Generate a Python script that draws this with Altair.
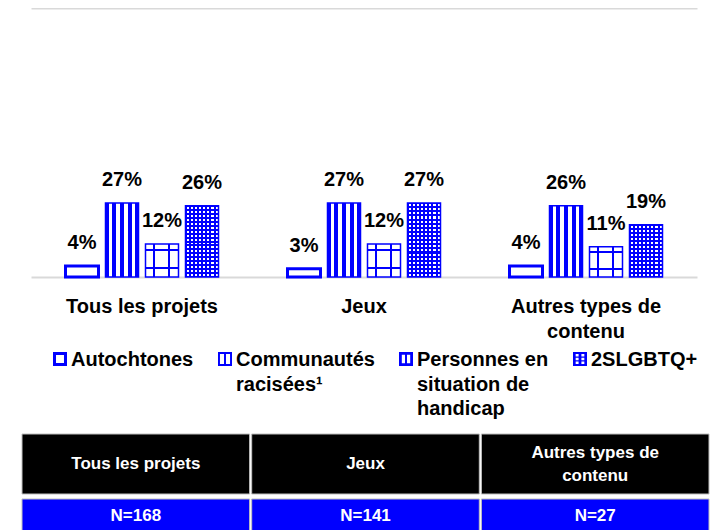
import json
import altair as alt
import pandas as pd

# ---------------- data ----------------
categories = ["Tous les projets", "Jeux", "Autres types de contenu"]
series = ["Autochtones", "Communautés racisées¹", "Personnes en situation de handicap", "2SLGBTQ+"]
autochtones = [4, 3, 4]
communautes = [27, 27, 26]
personnes = [12, 12, 11]
lgbt = [26, 27, 19]
n_counts = [168, 141, 27]

category_lines = {
    "Tous les projets": ["Tous les projets"],
    "Jeux": ["Jeux"],
    "Autres types de contenu": ["Autres types de", "contenu"],
}
series_lines = {
    "Autochtones": ["Autochtones"],
    "Communautés racisées¹": ["Communautés", "racisées¹"],
    "Personnes en situation de handicap": ["Personnes en", "situation de", "handicap"],
    "2SLGBTQ+": ["2SLGBTQ+"],
}

rows = []
for s, vals in zip(series, [autochtones, communautes, personnes, lgbt]):
    for c, v in zip(categories, vals):
        rows.append({"category": c, "series": s, "value": v})
df = pd.DataFrame(rows)
tab_df = pd.DataFrame({
    "category": categories,
    "n": [f"N={n}" for n in n_counts],
    "nlines": [len(category_lines[c]) for c in categories],
})

# ---------------- styles ----------------
BLUE = "#0000ff"
TRANSP = "rgba(0,0,255,0)"
FONT = "Liberation Sans"
GRAY = "#d9d9d9"


def wrap_expr(mapping, ref, pad_to=0):
    expr = ref
    for k, lines in mapping.items():
        lines = list(lines) + [""] * max(0, pad_to - len(lines))
        if len(lines) > 1:
            expr = f"{ref} == {json.dumps(k, ensure_ascii=False)} ? {json.dumps(lines, ensure_ascii=False)} : ({expr})"
    return expr


def grad(bg, color, bands, vertical=False):
    stops = [alt.GradientStop(offset=0, color=bg)]
    for a, b in bands:
        stops += [
            alt.GradientStop(offset=a, color=bg),
            alt.GradientStop(offset=a, color=color),
            alt.GradientStop(offset=b, color=color),
            alt.GradientStop(offset=b, color=bg),
        ]
    stops.append(alt.GradientStop(offset=1, color=bg))
    if vertical:
        return alt.LinearGradient(gradient="linear", stops=stops, x1=0, y1=0, x2=0, y2=1)
    return alt.LinearGradient(gradient="linear", stops=stops, x1=0, y1=0, x2=1, y2=0)


def periodic(n, a=0.3, b=0.8):
    return [((i + a) / n, (i + b) / n) for i in range(n)]


comm_bands = [(0.093, 0.207), (0.33, 0.433), (0.567, 0.67), (0.795, 0.898)]
pers_v = [(0.235, 0.29), (0.69, 0.745)]
pers_h = [(0.155, 0.21), (0.71, 0.765)]


def sym_path(holes):
    p = "M-1,-2H1V0H-1Z"
    for x0, x1, y0, y1 in holes:
        p += f" M{x0:g},{y0 - 1:g}V{y1 - 1:g}H{x1:g}V{y0 - 1:g}Z"
    return p


paths = [
    sym_path([(-0.57, 0.57, -0.57, 0.57)]),
    sym_path([(-0.72, -0.14, -0.72, 0.72), (0.14, 0.72, -0.72, 0.72)]),
    sym_path([(-0.6, -0.14, -0.6, 0.6), (0.14, 0.6, -0.6, 0.6)]),
    sym_path([(x0, x1, y0, y1) for (x0, x1) in [(-0.62, -0.2), (0.2, 0.62)]
              for (y0, y1) in [(-0.72, -0.36), (-0.18, 0.18), (0.36, 0.72)]]),
]

# ---------------- bar chart ----------------
W_BARS = 687
x_scale = alt.Scale(domain=categories, paddingInner=0, paddingOuter=0, range=[9, 675])
x_bottom = alt.X(
    "category:N", sort=categories, scale=x_scale,
    axis=alt.Axis(title=None, labelAngle=0, labelExpr=wrap_expr(category_lines, "datum.label"),
                  labelFont=FONT, labelFontSize=20, labelFontWeight="bold", labelColor="black",
                  labelPadding=19, labelLineHeight=25, labelLimit=0, labelOverlap=False,
                  ticks=False, tickSize=0, domainColor=GRAY, domainWidth=2, grid=False),
)
x_top = alt.X(
    "category:N", sort=categories, scale=x_scale,
    axis=alt.Axis(orient="top", title=None, labels=False, ticks=False, tickSize=0,
                  domain=True, domainColor=GRAY, domainWidth=2, grid=False),
)
x_none = alt.X("category:N", sort=categories, scale=x_scale, axis=None)
y_enc = alt.Y("value:Q", scale=alt.Scale(domain=[0, 98], nice=False, zero=True), axis=None)
xoff = alt.XOffset("series:N", sort=series,
                   scale=alt.Scale(domain=series, paddingInner=0.175, paddingOuter=0.8625))


def layer_for(s, x_enc):
    return alt.Chart(df).transform_filter(
        alt.FieldEqualPredicate(field="series", equal=s)
    ).encode(x=x_enc, y=y_enc, xOffset=xoff)


auto_l = layer_for(series[0], x_bottom).mark_bar(fill="white", stroke=BLUE, strokeWidth=3)
comm_l = layer_for(series[1], x_top).mark_bar(fill=grad(BLUE, "white", comm_bands), stroke=BLUE, strokeWidth=1.5)
pers_a = layer_for(series[2], x_none).mark_bar(fill=grad("white", BLUE, pers_v))
pers_b = layer_for(series[2], x_none).mark_bar(
    fill=grad(TRANSP, BLUE, pers_h, vertical=True), stroke=BLUE, strokeWidth=1.5)
lgbt_a = layer_for(series[3], x_none).mark_bar(fill=grad(BLUE, "white", periodic(8)))
lgbt_b = layer_for(series[3], x_none).mark_bar(stroke=BLUE, strokeWidth=1.5).encode(
    fill=alt.condition(
        "datum.value < 22",
        alt.value(grad(BLUE, TRANSP, periodic(13), vertical=True).to_dict()),
        alt.value(grad(BLUE, TRANSP, periodic(18), vertical=True).to_dict()),
    )
)

labels = alt.Chart(df).transform_calculate(lbl="datum.value + '%'").mark_text(
    baseline="alphabetic", dy=-17, font=FONT, fontSize=20, fontWeight="bold", color="black"
).encode(x=x_none, y=y_enc, xOffset=xoff, text="lbl:N")

legend_layer = alt.Chart(df).transform_filter("false").mark_point(
    filled=True, fill=BLUE, size=196, opacity=1
).encode(
    shape=alt.Shape(
        "series:N", sort=series,
        scale=alt.Scale(domain=series, range=paths),
        legend=alt.Legend(
            title=None, orient="none", legendX=28, legendY=348, direction="horizontal",
            columns=4, columnPadding=21, symbolSize=196, symbolStrokeWidth=0,
            symbolFillColor=BLUE, symbolOpacity=1, labelFont=FONT, labelFontSize=20,
            labelFontWeight="bold", labelColor="black", labelBaseline="alphabetic",
            labelOffset=1, labelLimit=0,
            labelExpr=wrap_expr(series_lines, "datum.label", pad_to=3),
            padding=0, offset=0,
        ),
    )
)

bars = alt.layer(
    auto_l, comm_l, pers_a, pers_b, lgbt_a, lgbt_b, labels, legend_layer
).resolve_axis(x="independent").properties(width=W_BARS, height=269)

# ---------------- table ----------------
tab_x = alt.X("category:N", sort=categories,
              scale=alt.Scale(domain=categories, paddingInner=0.009, paddingOuter=0), axis=None)

HEADER_H = 60
LH = 23
header_layers = [alt.Chart(tab_df).mark_rect(fill="black", stroke="#bfbfbf", strokeWidth=1).encode(x=tab_x)]
for nl in sorted(set(tab_df["nlines"])):
    header_layers.append(
        alt.Chart(tab_df).transform_filter(f"datum.nlines == {nl}")
        .transform_calculate(lines=wrap_expr(category_lines, "datum.category"))
        .mark_text(color="white", font=FONT, fontSize=17, fontWeight="bold", lineHeight=LH,
                   baseline="middle")
        .encode(x=tab_x, y=alt.value(HEADER_H / 2 - (nl - 1) * LH / 2), text="lines:N")
    )
header = alt.layer(*header_layers).properties(width=W_BARS, height=HEADER_H)

nrow = alt.layer(
    alt.Chart(tab_df).mark_rect(fill=BLUE, stroke="#bfbfbf", strokeWidth=1).encode(x=tab_x),
    alt.Chart(tab_df).mark_text(color="white", font=FONT, fontSize=17, fontWeight="bold").encode(
        x=tab_x, text="n:N"
    ),
).properties(width=W_BARS, height=34)

table = alt.vconcat(header, nrow, spacing=3)

chart = (
    alt.vconcat(bars, table, spacing=14)
    .resolve_scale(shape="independent")
    .resolve_legend(shape="independent")
    .properties(padding={"left": 13, "top": 0, "right": 0, "bottom": 0}, background="white")
    .configure(font=FONT, style={"guide-label": {"lineHeight": 24.5}})
    .configure_view(stroke=None)
)

chart.save("out.html", embed_options={"renderer": "svg", "actions": False})
